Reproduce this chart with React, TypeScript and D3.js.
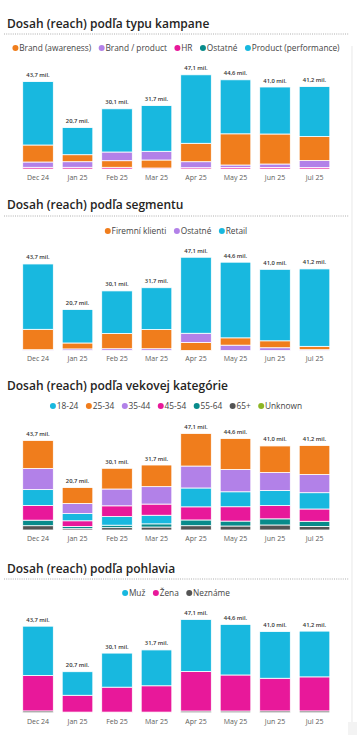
import React from "react";
import * as d3 from "d3";

const months = ["Dec 24", "Jan 25", "Feb 25", "Mar 25", "Apr 25", "May 25", "Jun 25", "Jul 25"];

// Panel 1 – typ kampane
const brandAwareness = [8.5, 3.5, 3.3, 4.0, 9.2, 15.6, 15.0, 12.0];
const brandProduct = [2.65, 2.8, 4.35, 4.35, 3.0, 1.3, 1.7, 3.5];
const hr = [0.85, 0.85, 0.85, 0.5, 0.65, 0.7, 0.8, 0.7];
const ostatneTyp = [0, 0, 0, 0, 0, 0, 0, 0];
const productPerformance = [31.7, 13.55, 21.6, 22.85, 34.25, 27.0, 23.5, 25.0];

// Panel 2 – segment
const firemniKlienti = [10.3, 3.0, 7.7, 9.7, 4.1, 3.7, 3.5, 1.7];
const ostatneSeg = [0.4, 0.8, 0.9, 0.9, 4.6, 2.7, 1.4, 0.4];
const retail = [33.0, 16.9, 21.5, 21.1, 38.4, 38.2, 36.1, 39.1];

// Panel 3 – veková kategória
const age1824 = [7.7, 3.5, 4.2, 4.2, 9.2, 7.3, 7.35, 7.95];
const age2534 = [13.7, 7.8, 10.1, 10.55, 15.9, 15.1, 13.0, 14.15];
const age3544 = [10.3, 4.9, 8.2, 8.5, 10.7, 10.85, 8.75, 8.85];
const age4554 = [7.2, 2.75, 5.25, 5.45, 6.4, 7.0, 6.45, 6.0];
const age5564 = [2.7, 1.1, 1.2, 1.55, 2.8, 2.4, 3.0, 2.5];
const age65 = [2.1, 0.65, 1.15, 1.45, 2.1, 1.95, 2.45, 1.75];
const ageUnknown = [0, 0, 0, 0, 0, 0, 0, 0];

// Panel 4 – pohlavie
const muz = [24.9, 11.9, 17.2, 18.1, 26.3, 25.55, 23.6, 23.1];
const zena = [17.9, 8.5, 12.6, 13.3, 19.95, 18.2, 16.5, 17.2];
const nezname = [0.9, 0.3, 0.3, 0.3, 0.85, 0.85, 0.9, 0.9];

const C = {
  blue: "#18b8df",
  orange: "#f07d1c",
  purple: "#b281e8",
  pink: "#e8189a",
  teal: "#088b8b",
  gray: "#545454",
  green: "#8cb524",
};

type Series = { name: string; color: string; values: number[] };

const panels: {
  title: string;
  series: Series[];
  titleY: number;
  sep: boolean;
  sepY: number;
  legendY: number;
  base: number;
  k: number;
}[] = [
  {
    title: "Dosah (reach) podľa typu kampane",
    series: [
      { name: "Brand (awareness)", color: C.orange, values: brandAwareness },
      { name: "Brand / product", color: C.purple, values: brandProduct },
      { name: "HR", color: C.pink, values: hr },
      { name: "Ostatné", color: C.teal, values: ostatneTyp },
      { name: "Product (performance)", color: C.blue, values: productPerformance },
    ],
    titleY: 27.5,
    sep: true,
    sepY: 34,
    legendY: 48,
    base: 169,
    k: 2.0,
  },
  {
    title: "Dosah (reach) podľa segmentu",
    series: [
      { name: "Firemní klienti", color: C.orange, values: firemniKlienti },
      { name: "Ostatné", color: C.purple, values: ostatneSeg },
      { name: "Retail", color: C.blue, values: retail },
    ],
    titleY: 209,
    sep: true,
    sepY: 216,
    legendY: 231,
    base: 350.5,
    k: 1.98,
  },
  {
    title: "Dosah (reach) podľa vekovej kategórie",
    series: [
      { name: "18-24", color: C.blue, values: age1824 },
      { name: "25-34", color: C.orange, values: age2534 },
      { name: "35-44", color: C.purple, values: age3544 },
      { name: "45-54", color: C.pink, values: age4554 },
      { name: "55-64", color: C.teal, values: age5564 },
      { name: "65+", color: C.gray, values: age65 },
      { name: "Unknown", color: C.green, values: ageUnknown },
    ],
    titleY: 389.5,
    sep: false,
    sepY: 0,
    legendY: 406,
    base: 530,
    k: 2.05,
  },
  {
    title: "Dosah (reach) podľa pohlavia",
    series: [
      { name: "Muž", color: C.blue, values: muz },
      { name: "Žena", color: C.pink, values: zena },
      { name: "Neznáme", color: C.gray, values: nezname },
    ],
    titleY: 572.5,
    sep: true,
    sepY: 579,
    legendY: 593,
    base: 712.7,
    k: 1.98,
  },
];

const FONT = "'Segoe UI', 'Open Sans', sans-serif";
const LEG_SIZE = 8.3;

let ctx: CanvasRenderingContext2D | null = null;
function measure(text: string, size: number, weight = 400) {
  if (!ctx) ctx = document.createElement("canvas").getContext("2d");
  if (!ctx) return text.length * size * 0.55;
  ctx.font = `${weight} ${size}px 'Open Sans'`;
  return ctx.measureText(text).width;
}

const x = d3
  .scaleBand<string>()
  .domain(months)
  .range([18.26, 334.26])
  .paddingInner(0.225)
  .paddingOuter(0.1125);

function Panel({ p }: { p: (typeof panels)[number] }) {
  const y = d3.scaleLinear().domain([0, 50]).range([p.base, p.base - 50 * p.k]);
  const fmt = (v: number) => v.toFixed(1).replace(".", ",") + " mil.";

  const r = 3;
  const gapDot = 0.8;
  const gapItem = 7.5;
  const widths = p.series.map((s) => r * 2 + gapDot + measure(s.name, LEG_SIZE));
  const total = d3.sum(widths) + gapItem * (p.series.length - 1);
  let cx = 176 - total / 2;
  const legendItems = p.series.map((s, i) => {
    const start = cx;
    cx += widths[i] + gapItem;
    return { s, start };
  });

  return (
    <g>
      <text x={7} y={p.titleY} fontFamily={FONT} fontSize={12} fontWeight={600} fill="#252423">
        {p.title}
      </text>
      {p.sep && (
        <line x1={4} x2={349} y1={p.sepY} y2={p.sepY} stroke="#9a9a9a" strokeWidth={0.8} strokeDasharray="1,1.2" />
      )}
      {legendItems.map(({ s, start }) => (
        <g key={s.name}>
          <circle cx={start + r} cy={p.legendY} r={r} fill={s.color} />
          <text
            x={start + 2 * r + gapDot}
            y={p.legendY}
            dy="0.35em"
            fontFamily={FONT}
            fontSize={LEG_SIZE}
            fill="#444"
          >
            {s.name}
          </text>
        </g>
      ))}
      {months.map((m, i) => {
        const items = p.series
          .map((s) => ({ s, v: s.values[i] }))
          .filter((d) => d.v > 0)
          .sort((a, b) => a.v - b.v);
        let acc = 0;
        const segs = items.map((d) => {
          const y0 = acc;
          acc += d.v;
          return { ...d, y0, y1: acc };
        });
        const bx = x(m)!;
        return (
          <g key={m}>
            {segs.map((d) => (
              <rect
                key={d.s.name}
                x={bx}
                width={x.bandwidth()}
                y={y(d.y1)}
                height={Math.max(0, y(d.y0) - y(d.y1))}
                fill={d.s.color}
                stroke="#fff"
                strokeWidth={0.8}
              />
            ))}
            <text
              x={bx + x.bandwidth() / 2}
              y={y(acc) - 4.5}
              textAnchor="middle"
              fontFamily={FONT}
              fontSize={5.8}
              fontWeight={600}
              fill="#333"
            >
              {fmt(acc)}
            </text>
            <text
              x={bx + x.bandwidth() / 2}
              y={p.base + 8.5}
              dy="0.35em"
              textAnchor="middle"
              fontFamily={FONT}
              fontSize={7}
              fill="#605e5c"
            >
              {m}
            </text>
          </g>
        );
      })}
    </g>
  );
}

export default function App() {
  return (
    <svg width={357} height={735} style={{ position: "absolute", left: 0, top: 0, background: "#fff" }}>
      <rect x={0} y={0} width={357} height={735} fill="#fff" />
      <line x1={352} x2={352} y1={46} y2={722} stroke="#ececec" strokeWidth={1.2} />
      <rect x={348} y={722} width={9} height={13} fill="#f3f3f3" />
      {panels.map((p) => (
        <Panel key={p.title} p={p} />
      ))}
    </svg>
  );
}
